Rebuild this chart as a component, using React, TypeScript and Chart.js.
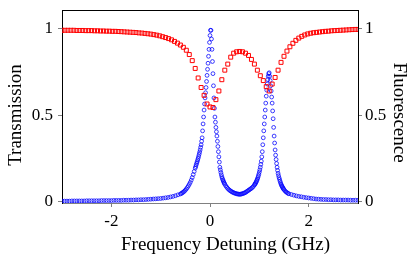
import React, { useEffect, useRef } from "react";
import { Chart, registerables } from "chart.js";

Chart.register(...registerables);

// ---- Data ----
const xTickValues = [-2, 0, 2];
const xTickLabels = ["-2", "0", "2"];
const yTickValues = [0, 0.5, 1];
const yTickLabels = ["0", "0.5", "1"];

const xTitle = "Frequency Detuning (GHz)";
const yLeftTitle = "Transmission";
const yRightTitle = "Fluorescence";

// Transmission (red squares)
const transX = [
  -3.0, -2.94, -2.88, -2.82, -2.76, -2.7, -2.64, -2.58, -2.52, -2.46,
  -2.4, -2.34, -2.28, -2.22, -2.16, -2.1, -2.04, -1.98, -1.92, -1.86,
  -1.8, -1.74, -1.68, -1.62, -1.56, -1.5, -1.44, -1.38, -1.32, -1.26,
  -1.2, -1.14, -1.08, -1.02, -0.96, -0.9, -0.84, -0.78, -0.72, -0.66,
  -0.6, -0.54, -0.48, -0.42, -0.36, -0.3, -0.24, -0.18, -0.12, -0.06,
  0.0, 0.06, 0.12, 0.18, 0.24, 0.3, 0.36, 0.42, 0.48, 0.54,
  0.6, 0.66, 0.72, 0.78, 0.84, 0.9, 0.96, 1.02, 1.08, 1.14,
  1.2, 1.26, 1.32, 1.38, 1.44, 1.5, 1.56, 1.62, 1.68, 1.74,
  1.8, 1.86, 1.92, 1.98, 2.04, 2.1, 2.16, 2.22, 2.28, 2.34,
  2.4, 2.46, 2.52, 2.58, 2.64, 2.7, 2.76, 2.82, 2.88, 2.94, 3.0,
];
const transY = [
  0.99, 0.99, 0.99, 0.99, 0.99, 0.989, 0.989, 0.989, 0.988, 0.988,
  0.988, 0.987, 0.987, 0.986, 0.986, 0.985, 0.985, 0.984, 0.984, 0.983,
  0.982, 0.981, 0.98, 0.979, 0.978, 0.977, 0.975, 0.974, 0.972, 0.97,
  0.968, 0.965, 0.962, 0.958, 0.953, 0.948, 0.942, 0.935, 0.926, 0.916,
  0.905, 0.892, 0.875, 0.85, 0.815, 0.77, 0.715, 0.66, 0.615, 0.565,
  0.548, 0.545, 0.59, 0.64, 0.705, 0.76, 0.795, 0.835, 0.858, 0.866,
  0.868, 0.866, 0.858, 0.845, 0.822, 0.795, 0.76, 0.728, 0.7, 0.665,
  0.64, 0.68, 0.718, 0.76, 0.805, 0.84, 0.87, 0.895, 0.915, 0.932,
  0.945, 0.955, 0.963, 0.969, 0.973, 0.976, 0.978, 0.98, 0.982, 0.984,
  0.985, 0.987, 0.988, 0.989, 0.99, 0.991, 0.992, 0.993, 0.994, 0.995, 0.995,
];

// Fluorescence (blue circles)
const fluorX = [
  -3.0, -2.95, -2.9, -2.85, -2.8, -2.75, -2.7, -2.65, -2.6, -2.55,
  -2.5, -2.45, -2.4, -2.35, -2.3, -2.25, -2.2, -2.15, -2.1, -2.05,
  -2.0, -1.95, -1.9, -1.85, -1.8, -1.75, -1.7, -1.65, -1.6, -1.55,
  -1.5, -1.45, -1.4, -1.35, -1.3, -1.25, -1.2, -1.15, -1.1, -1.05,
  -1.0, -0.95, -0.9, -0.85, -0.8, -0.75, -0.7, -0.65,
  -0.6, -0.58, -0.56, -0.54, -0.52, -0.5, -0.48, -0.46, -0.44, -0.42,
  -0.4, -0.38, -0.36, -0.34, -0.32,
  -0.3, -0.29, -0.28, -0.27, -0.26, -0.25, -0.24, -0.23, -0.22, -0.21,
  -0.2, -0.19, -0.18, -0.17, -0.16, -0.15, -0.14, -0.13, -0.12, -0.11,
  -0.1, -0.09, -0.08, -0.07, -0.06, -0.05, -0.04, -0.03, -0.02, -0.01,
  0.0, 0.01, 0.02, 0.03, 0.04, 0.05, 0.06, 0.07, 0.08, 0.09,
  0.1, 0.11, 0.12, 0.13, 0.14, 0.15, 0.16, 0.17, 0.18, 0.19,
  0.2, 0.21, 0.22, 0.23, 0.24, 0.25, 0.26, 0.27, 0.28, 0.29, 0.3,
  0.32, 0.34, 0.36, 0.38, 0.4, 0.42, 0.44, 0.46, 0.48, 0.5,
  0.52, 0.54, 0.56, 0.58, 0.6, 0.62, 0.64, 0.66, 0.68, 0.7,
  0.72, 0.74, 0.76, 0.78, 0.8, 0.82, 0.84, 0.86, 0.88,
  0.9, 0.91, 0.92, 0.93, 0.94, 0.95, 0.96, 0.97, 0.98, 0.99,
  1.0, 1.01, 1.02, 1.03, 1.04, 1.05, 1.06, 1.07, 1.08, 1.09,
  1.1, 1.11, 1.12, 1.13, 1.14, 1.15, 1.16, 1.17, 1.18, 1.19,
  1.2, 1.21, 1.22, 1.23, 1.24, 1.25, 1.26, 1.27, 1.28, 1.29,
  1.3, 1.31, 1.32, 1.33, 1.34, 1.35, 1.36, 1.37, 1.38, 1.39,
  1.4, 1.41, 1.42, 1.43, 1.44, 1.45, 1.46, 1.47, 1.48, 1.49, 1.5,
  1.52, 1.54, 1.56, 1.58, 1.6,
  1.65, 1.7, 1.75, 1.8, 1.85, 1.9, 1.95, 2.0, 2.05, 2.1,
  2.15, 2.2, 2.25, 2.3, 2.35, 2.4, 2.45, 2.5, 2.55, 2.6,
  2.65, 2.7, 2.75, 2.8, 2.85, 2.9, 2.95, 3.0,
];
const fluorY = [
  0.005, 0.005, 0.005, 0.005, 0.006, 0.006, 0.006, 0.006, 0.006, 0.006,
  0.007, 0.007, 0.007, 0.007, 0.007, 0.007, 0.008, 0.008, 0.008, 0.008,
  0.008, 0.009, 0.009, 0.009, 0.009, 0.01, 0.01, 0.01, 0.011, 0.011,
  0.012, 0.012, 0.013, 0.013, 0.014, 0.015, 0.016, 0.017, 0.018, 0.019,
  0.02, 0.022, 0.024, 0.026, 0.029, 0.032, 0.036, 0.041,
  0.046, 0.049, 0.053, 0.057, 0.062, 0.068, 0.075, 0.083, 0.092, 0.102,
  0.113, 0.126, 0.141, 0.158, 0.176,
  0.195, 0.204, 0.214, 0.223, 0.232, 0.242, 0.252, 0.263, 0.275, 0.287,
  0.3, 0.315, 0.33, 0.35, 0.37, 0.41, 0.45, 0.49, 0.53, 0.565,
  0.6, 0.63, 0.66, 0.695, 0.73, 0.765, 0.8, 0.84, 0.88, 0.92,
  0.96, 0.99, 0.99, 0.94, 0.88, 0.81, 0.74, 0.67, 0.6, 0.54,
  0.49, 0.46, 0.43, 0.405, 0.38, 0.35, 0.32, 0.29, 0.26, 0.23,
  0.2, 0.185, 0.17, 0.157, 0.145, 0.136, 0.128, 0.121, 0.114, 0.108, 0.102,
  0.093, 0.085, 0.078, 0.072, 0.067, 0.063, 0.059, 0.056, 0.053, 0.051,
  0.049, 0.047, 0.046, 0.045, 0.044, 0.045, 0.046, 0.048, 0.05, 0.052,
  0.055, 0.059, 0.063, 0.067, 0.071, 0.075, 0.079, 0.084, 0.09,
  0.098, 0.102, 0.107, 0.112, 0.118, 0.125, 0.132, 0.14, 0.15, 0.16,
  0.172, 0.185, 0.2, 0.217, 0.235, 0.26, 0.29, 0.33, 0.37, 0.41,
  0.45, 0.49, 0.53, 0.57, 0.61, 0.645, 0.68, 0.705, 0.725, 0.74,
  0.745, 0.725, 0.7, 0.67, 0.64, 0.605, 0.57, 0.525, 0.48, 0.43,
  0.38, 0.34, 0.3, 0.27, 0.245, 0.222, 0.2, 0.182, 0.165, 0.152,
  0.14, 0.13, 0.12, 0.111, 0.103, 0.096, 0.09, 0.085, 0.08, 0.075, 0.071,
  0.064, 0.058, 0.054, 0.05, 0.047,
  0.043, 0.039, 0.035, 0.032, 0.03, 0.027, 0.025, 0.023, 0.021, 0.019,
  0.017, 0.016, 0.015, 0.014, 0.014, 0.013, 0.013, 0.012, 0.012, 0.012,
  0.011, 0.011, 0.011, 0.011, 0.01, 0.01, 0.01, 0.01,
];

const FONT = '"Liberation Serif", "Times New Roman", serif';

const decorPlugin = {
  id: "decor",
  afterDraw(chart: any) {
    const { ctx, chartArea: a } = chart;
    ctx.save();
    // top frame line
    ctx.strokeStyle = "#000";
    ctx.lineWidth = 1;
    ctx.beginPath();
    ctx.moveTo(a.left, Math.round(a.top) + 0.5);
    ctx.lineTo(a.right, Math.round(a.top) + 0.5);
    ctx.stroke();
    ctx.fillStyle = "#000";
    ctx.font = `19px ${FONT}`;
    ctx.textAlign = "center";
    ctx.textBaseline = "alphabetic";
    const cx = (a.left + a.right) / 2;
    const cy = (a.top + a.bottom) / 2;
    ctx.fillText(xTitle, cx + 15.5, a.bottom + 46.5);
    ctx.save();
    ctx.translate(20.5, cy + 8.5);
    ctx.rotate(-Math.PI / 2);
    ctx.fillText(yLeftTitle, 0, 0);
    ctx.restore();
    ctx.save();
    ctx.translate(a.right + 36, cy + 6);
    ctx.rotate(Math.PI / 2);
    ctx.fillText(yRightTitle, 0, 0);
    ctx.restore();
    ctx.restore();
  },
};

export default function App() {
  const ref = useRef<HTMLCanvasElement | null>(null);

  useEffect(() => {
    if (!ref.current) return;
    const tickFont = { family: FONT, size: 17 };
    const yCommon = (pos: "left" | "right", width: number, pad: number) => ({
      type: "linear" as const,
      position: pos,
      min: -0.006,
      max: 1.107,
      afterBuildTicks: (s: any) => {
        s.ticks = yTickValues.map((v) => ({ value: v }));
      },
      afterFit: (s: any) => {
        s.width = width;
        s.paddingTop = 0;
        s.paddingBottom = 0;
      },
      ticks: {
        font: tickFont,
        color: "#000",
        padding: pad,
        callback: (v: any) => {
          const i = yTickValues.indexOf(Number(v));
          return i >= 0 ? yTickLabels[i] : "";
        },
      },
      grid: {
        drawOnChartArea: false,
        drawTicks: true,
        tickLength: 4,
        tickColor: "#808080",
      },
      border: { display: true, color: "#000", width: 1 },
    });

    const chart = new Chart(ref.current, {
      type: "scatter",
      data: {
        datasets: [
          {
            label: "Transmission",
            data: transX.map((x, i) => ({ x, y: transY[i] })),
            yAxisID: "y",
            pointStyle: "rect",
            radius: 2.8,
            borderWidth: 1,
            borderColor: "rgb(255,0,0)",
            backgroundColor: "rgba(255,255,255,0)",
            showLine: false,
          },
          {
            label: "Fluorescence",
            data: fluorX.map((x, i) => ({ x, y: fluorY[i] })),
            yAxisID: "y2",
            pointStyle: "circle",
            radius: 1.9,
            borderWidth: 0.9,
            borderColor: "rgba(0,0,255,0.85)",
            backgroundColor: "rgba(255,255,255,0)",
            showLine: false,
          },
        ],
      },
      options: {
        animation: false,
        responsive: false,
        devicePixelRatio: 1,
        layout: { padding: { top: 10, left: 0, right: 0, bottom: 0 } },
        plugins: {
          legend: { display: false },
          tooltip: { enabled: false },
        },
        scales: {
          x: {
            type: "linear",
            position: "bottom",
            min: -3,
            max: 3,
            afterBuildTicks: (s: any) => {
              s.ticks = xTickValues.map((v) => ({ value: v }));
            },
            afterFit: (s: any) => {
              s.height = 63;
              s.paddingLeft = 0;
              s.paddingRight = 0;
            },
            ticks: {
              font: tickFont,
              color: "#000",
              padding: 4,
              maxRotation: 0,
              callback: (v: any) => {
                const i = xTickValues.indexOf(Number(v));
                return i >= 0 ? xTickLabels[i] : "";
              },
            },
            grid: {
              drawOnChartArea: false,
              drawTicks: true,
              tickLength: 4,
              tickColor: "#808080",
            },
            border: { display: true, color: "#808080", width: 1 },
          },
          y: yCommon("left", 62, 5),
          y2: yCommon("right", 57, 3),
        },
      },
      plugins: [decorPlugin],
    });
    return () => chart.destroy();
  }, []);

  return (
    <div style={{ position: "absolute", left: 0, top: 0, width: 415, height: 266, background: "#fff" }}>
      <canvas ref={ref} width={415} height={266} />
    </div>
  );
}
